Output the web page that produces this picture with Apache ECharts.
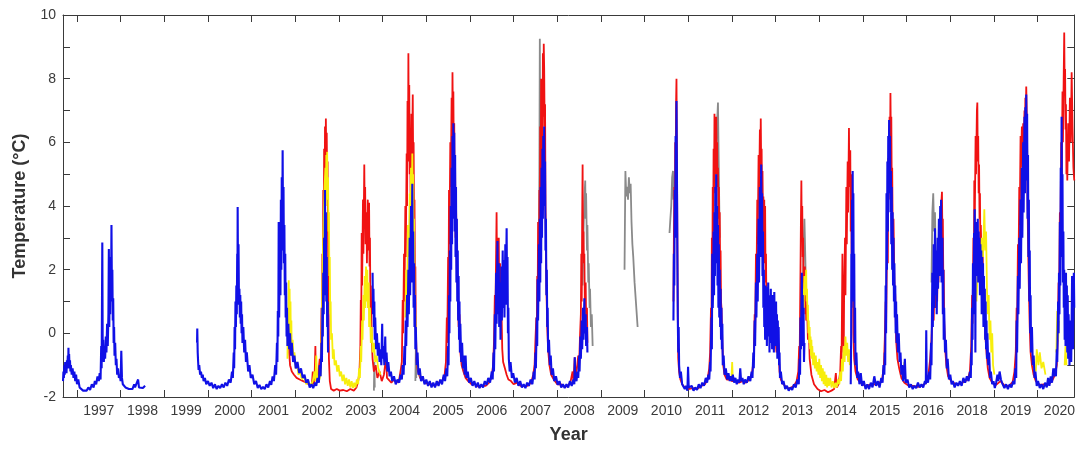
<!DOCTYPE html>
<html>
<head>
<meta charset="utf-8">
<script src="https://cdn.jsdelivr.net/npm/echarts@6/dist/echarts.min.js"></script>
<style>
  html, body { margin: 0; padding: 0; background: #fff; }
  #chart { width: 1078px; height: 449px; }
</style>
</head>
<body>
<div id="chart"></div>
<script>
// tick labels sit between the yearly ticks (note: the source skips 2017)
const yearLabels = ['1997', '1998', '1999', '2000', '2001', '2002', '2003', '2004', '2005', '2006', '2007', '2008',
  '2009', '2010', '2011', '2012', '2013', '2014', '2015', '2016', '2018', '2019', '2020']
const tickYears = yearLabels.map((_, i) => 1997 + i)
const labelYears = yearLabels.map((_, i) => 1997.5 + i)

// [decimal year, temperature °C]; null breaks the line
const grayData = [
  [2003.80, -1.8], [2003.81, -0.9], [2003.82, -1.7], [2003.83, null],
  [2004.75, -1.5], [2004.76, -0.5], [2004.77, -1.4], [2004.78, null],
  [2007.57, 1.5], [2007.59, 5.0], [2007.60, 9.25], [2007.61, 6.0], [2007.62, 7.5], [2007.63, 3.0], [2007.64, null],
  [2008.58, 1.5], [2008.60, 3.2], [2008.62, 4.2], [2008.64, 4.8], [2008.65, 3.6], [2008.66, 4.4], [2008.68, 2.6],
  [2008.69, 3.4], [2008.71, 1.6], [2008.72, 2.2], [2008.74, 0.8], [2008.75, 1.4], [2008.77, 0.2], [2008.79, 0.6],
  [2008.81, -0.4], [2008.82, null],
  [2009.54, 2.0], [2009.55, 3.6], [2009.56, 5.1], [2009.58, 4.3], [2009.60, 4.6], [2009.62, 4.2], [2009.64, 4.9],
  [2009.66, 4.4], [2009.68, 4.7], [2009.70, 3.5], [2009.72, 2.8], [2009.74, 2.4], [2009.77, 1.6], [2009.80, 1.0],
  [2009.84, 0.2], [2009.85, null],
  [2010.57, 3.15], [2010.59, 3.6], [2010.61, 4.0], [2010.63, 4.9], [2010.65, 5.1], [2010.66, 4.2], [2010.67, null],
  [2011.62, 4.0], [2011.64, 5.8], [2011.66, 6.6], [2011.68, 7.25], [2011.70, 5.0], [2011.72, 3.0], [2011.74, null],
  [2013.62, 1.0], [2013.64, 2.6], [2013.66, 3.6], [2013.68, 2.4], [2013.70, 1.0], [2013.71, null],
  [2016.57, 1.6], [2016.59, 3.8], [2016.61, 4.4], [2016.63, 3.2], [2016.65, 3.8], [2016.67, 2.2],
]

const redData = [
  [2001.84, -0.4], [2001.85, 0.1], [2001.86, -0.6], [2001.88, -1.0], [2001.92, -1.2], [2001.97, -1.3], [2002.03, -1.4],
  [2002.10, -1.45], [2002.18, -1.5], [2002.26, -1.55], [2002.33, -1.62], [2002.38, -1.6], [2002.40, -1.2], [2002.41, -1.6],
  [2002.44, -1.5], [2002.46, -0.4], [2002.47, -1.3], [2002.50, -1.5], [2002.53, -1.2], [2002.56, -0.8], [2002.58, -1.1],
  [2002.60, 0.8], [2002.61, -0.2], [2002.62, 2.5], [2002.63, 0.8], [2002.64, 4.5], [2002.65, 2.0], [2002.66, 5.8],
  [2002.67, 3.0], [2002.68, 6.5], [2002.69, 4.2], [2002.70, 6.75], [2002.71, 5.5], [2002.72, 6.3], [2002.73, 4.6],
  [2002.74, 5.4], [2002.75, 3.0], [2002.76, 1.2], [2002.77, -0.8], [2002.79, -1.5], [2002.82, -1.75], [2002.88, -1.8],
  [2002.95, -1.75], [2003.02, -1.8], [2003.10, -1.78], [2003.18, -1.82], [2003.26, -1.75], [2003.34, -1.8], [2003.40, -1.7],
  [2003.44, -1.5], [2003.47, -1.2], [2003.49, -0.4], [2003.50, 1.05], [2003.51, 0.2], [2003.52, 3.15], [2003.53, 1.5],
  [2003.55, 4.2], [2003.56, 2.5], [2003.58, 5.3], [2003.59, 3.6], [2003.60, 4.6], [2003.61, 2.8], [2003.63, 3.8],
  [2003.64, 2.2], [2003.66, 4.2], [2003.67, 2.6], [2003.69, 4.1], [2003.70, 2.1], [2003.71, 3.0], [2003.72, 0.8],
  [2003.73, 1.5], [2003.75, -0.2], [2003.77, -0.8], [2003.80, -1.2], [2003.84, -1.0], [2003.88, -1.4], [2003.93, -1.2],
  [2003.98, -1.5], [2004.03, -1.3], [2004.08, -0.75], [2004.10, -1.4], [2004.14, -1.45], [2004.20, -1.55], [2004.26, -1.45],
  [2004.32, -1.55], [2004.38, -1.45], [2004.42, -1.1], [2004.44, -0.9], [2004.46, 1.05], [2004.47, 0.0], [2004.49, 2.5],
  [2004.50, 1.0], [2004.52, 4.0], [2004.53, 2.4], [2004.55, 5.65], [2004.56, 4.0], [2004.57, 7.3], [2004.58, 5.4],
  [2004.59, 8.8], [2004.60, 6.0], [2004.61, 7.8], [2004.62, 5.0], [2004.63, 6.4], [2004.64, 4.4], [2004.66, 6.9],
  [2004.67, 5.0], [2004.69, 7.5], [2004.70, 5.2], [2004.71, 6.0], [2004.72, 3.6], [2004.73, 4.2], [2004.74, 1.8],
  [2004.75, 2.1], [2004.76, 0.2], [2004.78, -0.9], [2004.81, -1.2], [2004.86, -1.4], [2004.92, -1.45], [2004.98, -1.55],
  [2005.05, -1.6], [2005.12, -1.6], [2005.20, -1.65], [2005.28, -1.55], [2005.36, -1.5], [2005.42, -1.3], [2005.45, -0.9],
  [2005.47, 0.5], [2005.48, -0.3], [2005.50, 2.4], [2005.51, 1.0], [2005.52, 4.5], [2005.53, 2.8], [2005.55, 6.0],
  [2005.56, 4.6], [2005.58, 7.4], [2005.59, 5.8], [2005.60, 8.2], [2005.61, 6.6], [2005.62, 7.6], [2005.63, 5.6],
  [2005.64, 6.6], [2005.65, 4.4], [2005.66, 5.2], [2005.67, 3.0], [2005.68, 4.2], [2005.70, 2.0], [2005.72, 1.6],
  [2005.74, 0.2], [2005.76, 0.6], [2005.78, -0.6], [2005.81, -1.0], [2005.85, -1.2], [2005.90, -1.4], [2005.96, -1.5],
  [2006.04, -1.6], [2006.12, -1.6], [2006.20, -1.68], [2006.28, -1.65], [2006.36, -1.65], [2006.44, -1.55], [2006.50, -1.35],
  [2006.53, -1.0], [2006.55, -0.3], [2006.57, 1.2], [2006.58, 0.4], [2006.60, 2.6], [2006.61, 3.8], [2006.62, 1.8],
  [2006.63, 3.0], [2006.64, 1.2], [2006.66, 3.0], [2006.67, 1.0], [2006.69, 2.2], [2006.70, 0.4], [2006.72, 0.8],
  [2006.74, -0.5], [2006.76, -0.9], [2006.80, -1.1], [2006.84, -1.3], [2006.88, -1.45], [2006.94, -1.5], [2007.00, -1.6],
  [2007.08, -1.55], [2007.16, -1.65], [2007.24, -1.65], [2007.32, -1.65], [2007.40, -1.55], [2007.45, -1.3], [2007.48, -1.0],
  [2007.50, -0.2], [2007.52, 0.5], [2007.53, -0.2], [2007.54, 1.8], [2007.55, 0.8], [2007.56, 3.5], [2007.57, 1.6],
  [2007.58, 2.0], [2007.59, 4.5], [2007.60, 3.0], [2007.61, 6.5], [2007.62, 4.6], [2007.63, 8.0], [2007.64, 6.0],
  [2007.65, 7.0], [2007.66, 5.2], [2007.67, 8.8], [2007.68, 6.8], [2007.69, 9.1], [2007.70, 8.3], [2007.71, 6.5],
  [2007.72, 7.2], [2007.73, 4.0], [2007.74, 3.0], [2007.75, 1.5], [2007.77, 0.2], [2007.79, -0.5], [2007.82, -1.0],
  [2007.86, -1.3], [2007.92, -1.45], [2008.00, -1.6], [2008.08, -1.6], [2008.16, -1.68], [2008.24, -1.65], [2008.30, -1.55],
  [2008.35, -1.2], [2008.37, -1.5], [2008.40, -0.75], [2008.42, -1.3], [2008.45, -1.1], [2008.48, -0.7], [2008.50, -1.0],
  [2008.52, -0.1], [2008.54, 0.6], [2008.55, 2.5], [2008.56, 1.0], [2008.57, 3.6], [2008.58, 5.3], [2008.59, 2.5],
  [2008.60, 3.2], [2008.61, 2.2], [2008.62, 2.5], [2008.63, 1.0], [2008.65, 1.6], [2008.66, 0.4], [2008.68, 0.8],
  [2008.69, -0.3], [2008.70, null],
  [2010.66, 1.0], [2010.67, 3.0], [2010.68, 4.6], [2010.69, 3.2], [2010.70, 6.0], [2010.71, 4.8], [2010.72, 7.2],
  [2010.73, 8.0], [2010.74, 5.6], [2010.75, 3.0], [2010.76, 0.6], [2010.77, -0.8], [2010.79, -1.2], [2010.82, -1.45],
  [2010.86, -1.6], [2010.92, -1.7], [2011.00, -1.75], [2011.10, -1.72], [2011.20, -1.75], [2011.30, -1.65], [2011.38, -1.6],
  [2011.44, -1.45], [2011.48, -1.1], [2011.50, -0.6], [2011.52, 0.8], [2011.53, -0.2], [2011.54, 3.0], [2011.55, 1.6],
  [2011.56, 4.6], [2011.57, 3.2], [2011.58, 5.8], [2011.59, 4.4], [2011.60, 6.9], [2011.61, 5.2], [2011.62, 6.5],
  [2011.63, 5.0], [2011.64, 6.8], [2011.65, 5.6], [2011.66, 6.0], [2011.67, 4.6], [2011.68, 5.2], [2011.69, 3.6],
  [2011.70, 4.6], [2011.71, 3.0], [2011.72, 3.8], [2011.73, 2.0], [2011.74, 2.6], [2011.75, 1.0], [2011.76, 0.8],
  [2011.78, -0.3], [2011.80, -1.0], [2011.83, -1.3], [2011.88, -1.45], [2011.94, -1.45], [2012.00, -1.5], [2012.08, -1.5],
  [2012.16, -1.55], [2012.24, -1.5], [2012.32, -1.55], [2012.40, -1.45], [2012.46, -1.25], [2012.50, -0.8], [2012.52, 0.6],
  [2012.53, -0.1], [2012.55, 2.5], [2012.56, 1.2], [2012.58, 4.2], [2012.59, 2.8], [2012.61, 5.6], [2012.62, 4.2],
  [2012.64, 6.4], [2012.65, 5.0], [2012.66, 6.75], [2012.67, 5.2], [2012.68, 5.8], [2012.69, 4.0], [2012.70, 5.1],
  [2012.71, 3.6], [2012.72, 4.3], [2012.73, 3.0], [2012.74, 4.2], [2012.75, 2.2], [2012.76, 4.0], [2012.77, 1.6],
  [2012.78, 2.5], [2012.79, 0.8], [2012.81, 1.2], [2012.83, 0.2], [2012.86, 0.8], [2012.89, -0.2], [2012.92, 0.4],
  [2012.95, -0.5], [2012.98, 0.2], [2013.02, -0.6], [2013.06, -0.2], [2013.09, -1.2], [2013.12, -1.45], [2013.18, -1.6],
  [2013.26, -1.72], [2013.34, -1.72], [2013.42, -1.65], [2013.48, -1.5], [2013.52, -1.2], [2013.54, -0.4], [2013.55, -0.9],
  [2013.56, 0.6], [2013.57, 2.0], [2013.58, 3.6], [2013.59, 4.8], [2013.60, 3.0], [2013.61, 4.0], [2013.62, 2.4],
  [2013.63, 3.0], [2013.64, 1.6], [2013.65, 2.1], [2013.66, 1.0], [2013.67, 2.1], [2013.68, 0.6], [2013.69, 1.5],
  [2013.70, 0.4], [2013.72, 0.9], [2013.74, -0.2], [2013.76, 0.2], [2013.78, -0.8], [2013.82, -1.3], [2013.88, -1.6],
  [2013.96, -1.75], [2014.04, -1.82], [2014.12, -1.78], [2014.20, -1.85], [2014.28, -1.8], [2014.34, -1.75], [2014.38, -1.25],
  [2014.40, -1.7], [2014.44, -1.6], [2014.48, -1.2], [2014.50, -0.4], [2014.51, -1.0], [2014.53, 2.5], [2014.54, 0.6],
  [2014.56, -0.6], [2014.57, 1.4], [2014.59, 3.0], [2014.60, 1.2], [2014.62, 4.6], [2014.63, 2.8], [2014.65, 5.4],
  [2014.66, 3.8], [2014.68, 6.45], [2014.69, 4.6], [2014.70, 5.2], [2014.71, 5.75], [2014.72, 3.2], [2014.73, 5.0],
  [2014.74, 2.5], [2014.75, 4.0], [2014.76, 1.2], [2014.77, 2.0], [2014.78, 0.0], [2014.80, -0.8], [2014.83, -1.2],
  [2014.88, -1.45], [2014.95, -1.55], [2015.05, -1.65], [2015.15, -1.62], [2015.25, -1.6], [2015.35, -1.6], [2015.44, -1.45],
  [2015.48, -1.0], [2015.50, -0.2], [2015.52, 1.0], [2015.53, 0.2], [2015.55, 2.6], [2015.56, 4.0], [2015.57, 2.2],
  [2015.58, 5.5], [2015.59, 4.2], [2015.61, 6.8], [2015.62, 5.6], [2015.63, 7.55], [2015.64, 6.0], [2015.65, 6.8],
  [2015.66, 4.6], [2015.67, 5.2], [2015.68, 3.4], [2015.70, 3.6], [2015.72, 1.6], [2015.74, 1.2], [2015.76, -0.2],
  [2015.79, -0.8], [2015.83, -1.1], [2015.88, -1.4], [2015.95, -1.55], [2016.05, -1.65], [2016.15, -1.65], [2016.25, -1.68],
  [2016.35, -1.65], [2016.45, -1.55], [2016.50, -1.3], [2016.54, -0.8], [2016.57, -0.2], [2016.60, 1.0], [2016.62, 0.4],
  [2016.64, 1.6], [2016.66, 0.8], [2016.68, 1.9], [2016.70, 1.0], [2016.72, 2.6], [2016.73, 1.6], [2016.75, 3.2],
  [2016.76, 2.2], [2016.78, 3.8], [2016.79, 2.8], [2016.80, 4.2], [2016.81, 4.45], [2016.82, 3.0], [2016.83, 3.6],
  [2016.84, 1.8], [2016.85, 2.0], [2016.86, 0.4], [2016.88, -0.4], [2016.91, -1.0], [2016.95, -1.35], [2017.02, -1.5],
  [2017.12, -1.6], [2017.22, -1.58], [2017.32, -1.52], [2017.40, -1.45], [2017.45, -1.2], [2017.48, -0.4], [2017.50, 1.2],
  [2017.51, 0.3], [2017.53, 3.0], [2017.54, 1.8], [2017.55, 4.8], [2017.56, 3.4], [2017.58, 6.2], [2017.59, 5.0],
  [2017.61, 7.0], [2017.62, 7.25], [2017.63, 5.4], [2017.64, 6.2], [2017.65, 4.4], [2017.66, 5.3], [2017.67, 3.6],
  [2017.68, 4.4], [2017.69, 2.6], [2017.70, 3.4], [2017.72, 2.0], [2017.74, 2.6], [2017.76, 1.0], [2017.78, 1.4],
  [2017.80, 0.0], [2017.83, -0.6], [2017.86, -1.1], [2017.90, -1.4], [2017.96, -1.55], [2018.05, -1.62], [2018.15, -1.5],
  [2018.25, -1.65], [2018.35, -1.65], [2018.43, -1.52], [2018.47, -1.2], [2018.50, -0.6], [2018.52, 0.8], [2018.53, 0.0],
  [2018.55, 2.8], [2018.56, 1.6], [2018.58, 4.6], [2018.59, 3.4], [2018.61, 6.2], [2018.62, 5.2], [2018.64, 6.5],
  [2018.65, 5.4], [2018.67, 6.6], [2018.68, 5.8], [2018.70, 7.0], [2018.71, 6.2], [2018.72, 7.4], [2018.73, 6.8],
  [2018.74, 7.75], [2018.75, 7.0], [2018.76, 6.0], [2018.77, 4.2], [2018.78, 3.0], [2018.80, 1.4], [2018.82, 0.2],
  [2018.84, -0.6], [2018.87, -1.0], [2018.91, -1.3], [2018.96, -1.5], [2019.05, -1.62], [2019.15, -1.6], [2019.25, -1.6],
  [2019.33, -1.5], [2019.40, -1.3], [2019.44, -1.0], [2019.46, -0.2], [2019.48, 1.6], [2019.49, 0.6], [2019.51, 3.8],
  [2019.52, 2.4], [2019.54, 6.0], [2019.55, 4.2], [2019.57, 7.6], [2019.58, 6.0], [2019.60, 8.3], [2019.61, 9.45],
  [2019.62, 7.6], [2019.63, 8.3], [2019.64, 6.4], [2019.65, 7.2], [2019.66, 5.0], [2019.67, 6.2], [2019.68, 4.8],
  [2019.70, 6.6], [2019.72, 5.4], [2019.74, 7.4], [2019.76, 6.0], [2019.78, 8.2], [2019.80, 6.5], [2019.82, 5.2],
  [2019.84, 4.8],
]

const yellowData = [
  [2001.82, -0.8], [2001.83, 0.6], [2001.84, -0.2], [2001.85, 1.67], [2001.86, 0.4], [2001.87, 1.4], [2001.88, 0.0],
  [2001.89, 1.0], [2001.90, -0.4], [2001.91, 0.4], [2001.92, -0.7], [2001.94, -0.2], [2001.96, -0.9], [2001.98, -0.6],
  [2002.01, -1.1], [2002.04, -0.9], [2002.07, -1.3], [2002.11, -1.2], [2002.15, -1.45], [2002.20, -1.35], [2002.25, -1.6],
  [2002.30, -1.5], [2002.35, -1.65], [2002.40, -1.5], [2002.44, -1.2], [2002.46, -1.5], [2002.48, -0.7], [2002.50, -1.4],
  [2002.54, -1.5], [2002.58, -1.3], [2002.61, 0.5], [2002.63, 2.4], [2002.65, 3.6], [2002.67, 4.6], [2002.69, 5.2],
  [2002.70, 4.0], [2002.71, 5.6], [2002.72, 4.6], [2002.73, 5.7], [2002.74, 4.2], [2002.75, 4.9], [2002.76, 3.2],
  [2002.77, 3.8], [2002.78, 1.8], [2002.79, 2.4], [2002.80, 0.6], [2002.81, 1.0], [2002.82, -0.2], [2002.84, 0.0],
  [2002.86, -0.8], [2002.88, -0.5], [2002.90, -1.0], [2002.93, -0.85], [2002.96, -1.2], [2002.99, -1.0], [2003.02, -1.35],
  [2003.05, -1.2], [2003.08, -1.5], [2003.11, -1.3], [2003.14, -1.6], [2003.17, -1.4], [2003.20, -1.65], [2003.23, -1.45],
  [2003.26, -1.7], [2003.29, -1.5], [2003.32, -1.72], [2003.35, -1.55], [2003.38, -1.7], [2003.41, -1.45], [2003.44, -1.6],
  [2003.46, -1.1], [2003.48, -1.4], [2003.50, -0.4], [2003.51, -0.9], [2003.53, 0.4], [2003.54, -0.2], [2003.56, 1.2],
  [2003.57, 0.4], [2003.59, 1.8], [2003.60, 0.8], [2003.62, 2.1], [2003.63, 1.0], [2003.65, 2.0], [2003.66, 0.8],
  [2003.68, 1.6], [2003.69, 0.2], [2003.71, 0.8], [2003.73, -0.3], [2003.75, 0.2], [2003.77, -0.6], [2003.80, -0.3],
  [2003.83, -0.9], [2003.86, -0.7], [2003.90, -1.1], [2003.95, -1.3], [2004.00, null],
  [2004.52, 0.5], [2004.54, 2.0], [2004.56, 1.2], [2004.58, 3.4], [2004.60, 2.4], [2004.62, 4.4], [2004.63, 3.0],
  [2004.65, 5.2], [2004.66, 3.6], [2004.68, 5.65], [2004.69, 4.0], [2004.70, 5.0], [2004.71, 2.6], [2004.72, 3.6],
  [2004.73, 1.2], [2004.75, 0.6], [2004.77, -0.6], [2004.80, -1.0], [2004.84, -1.25], [2004.88, -1.4], [2004.90, null],
  [2011.99, -1.4], [2012.005, -0.9], [2012.02, -1.45], [2012.03, null],
  [2013.60, 0.5], [2013.62, 1.4], [2013.64, 0.8], [2013.66, 1.8], [2013.68, 1.2], [2013.70, 2.0], [2013.71, 1.0],
  [2013.72, 1.4], [2013.73, 0.4], [2013.74, 0.9], [2013.75, 0.0], [2013.76, 0.4], [2013.77, -0.3], [2013.78, 0.2],
  [2013.79, -0.5], [2013.80, -0.1], [2013.81, -0.7], [2013.82, -0.2], [2013.83, -0.8], [2013.84, -0.4], [2013.86, -1.0],
  [2013.88, -0.6], [2013.90, -1.1], [2013.92, -0.7], [2013.94, -1.2], [2013.96, -0.9], [2013.98, -1.3], [2014.00, -0.8],
  [2014.02, -1.4], [2014.04, -1.0], [2014.06, -1.5], [2014.08, -1.1], [2014.10, -1.6], [2014.12, -1.2], [2014.14, -1.65],
  [2014.16, -1.3], [2014.18, -1.7], [2014.20, -1.4], [2014.22, -1.65], [2014.25, -1.4], [2014.28, -1.7], [2014.31, -1.5],
  [2014.34, -1.72], [2014.37, -1.55], [2014.40, -1.7], [2014.43, -1.45], [2014.46, -1.6], [2014.48, -1.2], [2014.50, -1.5],
  [2014.52, -0.8], [2014.54, -1.2], [2014.56, -0.4], [2014.58, -0.9], [2014.60, -0.1], [2014.62, -0.7], [2014.64, -0.3],
  [2014.66, -0.9], [2014.68, -0.5], [2014.70, -1.0], [2014.72, null],
  [2015.93, -1.4], [2015.95, -0.9], [2015.97, -1.4], [2015.98, null],
  [2017.60, 1.0], [2017.64, 2.4], [2017.68, 2.0], [2017.72, 3.0], [2017.75, 2.4], [2017.78, 3.9], [2017.80, 2.6],
  [2017.82, 3.2], [2017.84, 1.4], [2017.86, 0.6], [2017.88, 1.2], [2017.90, -0.2], [2017.92, 0.4], [2017.94, -0.6],
  [2017.96, 0.0], [2017.98, -1.0], [2018.01, -1.3], [2018.03, null],
  [2018.96, -1.2], [2018.98, -0.5], [2019.02, -1.0], [2019.05, -0.6], [2019.09, -1.1], [2019.13, -0.9], [2019.18, -1.3],
  [2019.20, null],
  [2019.43, -0.6], [2019.45, 0.7], [2019.47, -0.2], [2019.49, 0.4], [2019.50, null],
  [2019.62, -1.0], [2019.64, -0.4], [2019.66, -1.0], [2019.67, null],
]

const blueData = [
  [1996.68, -1.5], [1996.69, -1.2], [1996.70, -1.4], [1996.71, -1.0], [1996.72, -1.3], [1996.73, -0.9], [1996.74, -1.2],
  [1996.75, -0.95], [1996.76, -1.25], [1996.77, -0.85], [1996.78, -1.1], [1996.79, -0.7], [1996.80, -1.0], [1996.805, -0.45],
  [1996.81, -0.9], [1996.82, -0.65], [1996.83, -1.1], [1996.84, -0.85], [1996.85, -1.2], [1996.86, -1.0], [1996.88, -1.3],
  [1996.90, -1.1], [1996.92, -1.4], [1996.94, -1.2], [1996.96, -1.5], [1996.98, -1.3], [1997.00, -1.6], [1997.03, -1.45],
  [1997.06, -1.7], [1997.10, -1.65], [1997.14, -1.8], [1997.18, -1.75], [1997.22, -1.8], [1997.26, -1.7], [1997.30, -1.78],
  [1997.34, -1.6], [1997.38, -1.7], [1997.41, -1.5], [1997.44, -1.6], [1997.47, -1.35], [1997.50, -1.5], [1997.52, -1.25],
  [1997.54, -1.45], [1997.555, -0.4], [1997.565, -1.1], [1997.58, 2.85], [1997.59, -0.7], [1997.60, -0.2], [1997.615, -0.9],
  [1997.63, -0.4], [1997.645, -0.8], [1997.66, -0.1], [1997.675, -0.6], [1997.69, 0.3], [1997.705, -0.4], [1997.72, 0.6],
  [1997.73, 2.65], [1997.74, 0.2], [1997.75, 1.8], [1997.76, 0.6], [1997.77, 2.4], [1997.78, 1.0], [1997.79, 3.4],
  [1997.80, 1.3], [1997.81, 2.0], [1997.82, 0.4], [1997.83, 1.1], [1997.84, -0.3], [1997.85, 0.2], [1997.86, -0.7],
  [1997.875, -0.3], [1997.89, -1.0], [1997.905, -0.8], [1997.92, -1.3], [1997.94, -1.1], [1997.96, -1.4], [1997.98, -1.3],
  [1998.00, -1.5], [1998.015, -0.55], [1998.03, -1.4], [1998.05, -1.6], [1998.08, -1.55], [1998.11, -1.7], [1998.15, -1.65],
  [1998.19, -1.75], [1998.23, -1.7], [1998.27, -1.75], [1998.31, -1.6], [1998.33, -1.7], [1998.37, -1.65], [1998.40, -1.45],
  [1998.42, -1.7], [1998.46, -1.65], [1998.51, -1.72], [1998.56, -1.65], [1998.60, null],
  [1999.75, -0.3], [1999.755, 0.15], [1999.765, -0.6], [1999.775, -0.9], [1999.785, -1.15], [1999.80, -1.0], [1999.82, -1.3],
  [1999.84, -1.2], [1999.86, -1.4], [1999.88, -1.3], [1999.90, -1.5], [1999.93, -1.4], [1999.96, -1.6], [2000.00, -1.5],
  [2000.04, -1.65], [2000.08, -1.55], [2000.12, -1.72], [2000.16, -1.6], [2000.20, -1.75], [2000.24, -1.65], [2000.28, -1.72],
  [2000.32, -1.6], [2000.36, -1.7], [2000.40, -1.55], [2000.44, -1.65], [2000.48, -1.45], [2000.52, -1.55], [2000.55, -1.2],
  [2000.57, -1.4], [2000.59, -0.6], [2000.60, -1.1], [2000.61, 0.2], [2000.62, -0.5], [2000.63, 1.0], [2000.64, 0.2],
  [2000.65, 1.5], [2000.66, 0.6], [2000.67, 2.5], [2000.675, 1.0], [2000.68, 3.97], [2000.69, 1.2], [2000.70, 2.8],
  [2000.71, 0.9], [2000.72, 1.4], [2000.73, 0.5], [2000.74, 1.2], [2000.75, 0.3], [2000.76, 1.0], [2000.77, 0.0],
  [2000.78, 0.6], [2000.79, -0.3], [2000.81, 0.2], [2000.83, -0.6], [2000.85, -0.2], [2000.87, -0.9], [2000.89, -0.6],
  [2000.92, -1.2], [2000.95, -1.0], [2000.98, -1.4], [2001.02, -1.3], [2001.06, -1.6], [2001.10, -1.5], [2001.14, -1.72],
  [2001.18, -1.62], [2001.22, -1.75], [2001.26, -1.68], [2001.30, -1.75], [2001.34, -1.6], [2001.38, -1.7], [2001.42, -1.5],
  [2001.45, -1.62], [2001.48, -1.35], [2001.51, -1.5], [2001.54, -1.0], [2001.56, -1.3], [2001.58, -0.3], [2001.59, -0.9],
  [2001.60, 0.7], [2001.61, -0.1], [2001.62, 3.5], [2001.63, 0.5], [2001.64, 1.8], [2001.65, 3.0], [2001.66, 1.2],
  [2001.67, 4.2], [2001.68, 2.0], [2001.69, 4.9], [2001.70, 2.6], [2001.71, 5.75], [2001.72, 3.0], [2001.73, 4.6],
  [2001.74, 2.2], [2001.75, 3.4], [2001.76, 1.2], [2001.77, 2.5], [2001.78, 0.5], [2001.79, 1.6], [2001.80, -0.1],
  [2001.81, 0.8], [2001.82, -0.4], [2001.84, 0.3], [2001.86, -0.5], [2001.88, 0.0], [2001.90, -0.7], [2001.92, -0.3],
  [2001.95, -0.9], [2001.98, -0.7], [2002.01, -1.1], [2002.05, -0.9], [2002.09, -1.25], [2002.13, -1.1], [2002.17, -1.4],
  [2002.21, -1.3], [2002.25, -1.55], [2002.29, -1.45], [2002.33, -1.7], [2002.37, -1.6], [2002.41, -1.72], [2002.45, -1.55],
  [2002.48, -1.65], [2002.51, -1.4], [2002.54, -1.55], [2002.56, -1.0], [2002.58, -1.35], [2002.60, -0.3], [2002.61, -0.9],
  [2002.62, 0.8], [2002.63, -0.1], [2002.64, 1.9], [2002.65, 0.6], [2002.66, 3.0], [2002.67, 1.2], [2002.68, 4.5],
  [2002.69, 1.8], [2002.70, 3.8], [2002.71, 1.0], [2002.72, 2.4], [2002.73, 0.2], [2002.74, 1.0], [2002.75, -0.6],
  [2002.76, null],
  [2003.77, 1.9], [2003.78, 0.6], [2003.79, 1.4], [2003.80, 0.2], [2003.81, 1.0], [2003.82, -0.2], [2003.83, 0.5],
  [2003.85, -0.5], [2003.87, 0.0], [2003.89, -0.7], [2003.91, -0.3], [2003.93, -0.9], [2003.95, -0.5], [2003.97, -1.0],
  [2003.99, 0.3], [2004.00, -0.8], [2004.02, -0.4], [2004.04, -1.0], [2004.06, -0.1], [2004.07, -0.9], [2004.09, -0.6],
  [2004.11, -1.2], [2004.13, -0.9], [2004.16, -1.35], [2004.19, -1.2], [2004.22, -1.5], [2004.26, -1.35], [2004.30, -1.6],
  [2004.34, -1.45], [2004.38, -1.55], [2004.41, -1.3], [2004.44, -1.45], [2004.46, -1.0], [2004.48, -1.3], [2004.50, -0.4],
  [2004.51, -1.0], [2004.53, 0.4], [2004.54, -0.4], [2004.56, 1.2], [2004.57, 0.2], [2004.59, 2.0], [2004.60, 0.6],
  [2004.62, 3.0], [2004.63, 1.2], [2004.65, 4.0], [2004.66, 1.6], [2004.68, 4.7], [2004.69, 2.0], [2004.70, 3.2],
  [2004.71, 0.8], [2004.72, 2.2], [2004.73, 0.2], [2004.74, 1.2], [2004.75, -0.5], [2004.76, 0.2], [2004.78, -1.0],
  [2004.80, -0.6], [2004.82, -1.3], [2004.85, -1.1], [2004.88, -1.5], [2004.92, -1.35], [2004.96, -1.6], [2005.00, -1.45],
  [2005.04, -1.65], [2005.08, -1.5], [2005.12, -1.7], [2005.16, -1.55], [2005.20, -1.7], [2005.24, -1.5], [2005.28, -1.65],
  [2005.32, -1.45], [2005.36, -1.6], [2005.40, -1.3], [2005.43, -1.5], [2005.46, -1.1], [2005.48, -1.35], [2005.50, -0.4],
  [2005.51, -1.0], [2005.52, 1.2], [2005.53, 0.0], [2005.54, 2.6], [2005.55, 1.0], [2005.56, 4.0], [2005.57, 2.0],
  [2005.58, 5.2], [2005.59, 2.8], [2005.60, 6.2], [2005.61, 3.6], [2005.62, 6.6], [2005.63, 4.0], [2005.64, 6.3],
  [2005.65, 3.2], [2005.66, 5.6], [2005.67, 2.4], [2005.68, 4.6], [2005.69, 1.6], [2005.70, 3.6], [2005.71, 1.0],
  [2005.72, 2.6], [2005.73, 0.4], [2005.74, 1.8], [2005.75, -0.2], [2005.76, 1.0], [2005.77, -0.6], [2005.78, 0.3],
  [2005.80, -0.9], [2005.82, -0.3], [2005.84, -1.1], [2005.86, -0.7], [2005.88, -1.3], [2005.90, -0.7], [2005.92, -1.4],
  [2005.95, -1.2], [2005.98, -1.55], [2006.02, -1.4], [2006.06, -1.65], [2006.10, -1.5], [2006.14, -1.7], [2006.18, -1.55],
  [2006.22, -1.72], [2006.26, -1.6], [2006.30, -1.7], [2006.34, -1.5], [2006.38, -1.62], [2006.42, -1.4], [2006.46, -1.55],
  [2006.50, -1.2], [2006.52, -1.45], [2006.54, -0.6], [2006.55, -1.2], [2006.57, 0.6], [2006.58, -0.5], [2006.60, 1.9],
  [2006.61, 0.3], [2006.63, 2.9], [2006.64, 0.6], [2006.66, 2.2], [2006.67, 0.2], [2006.69, 1.6], [2006.70, -0.2],
  [2006.72, 2.1], [2006.73, 0.4], [2006.75, 2.6], [2006.76, 0.8], [2006.78, 2.3], [2006.79, 0.5], [2006.81, 2.8],
  [2006.82, 0.9], [2006.84, 3.3], [2006.85, 1.0], [2006.86, 2.4], [2006.87, 0.0], [2006.88, 0.8], [2006.89, -0.8],
  [2006.91, -1.2], [2006.93, -0.9], [2006.96, -1.4], [2006.99, -1.25], [2007.03, -1.55], [2007.07, -1.4], [2007.11, -1.65],
  [2007.15, -1.5], [2007.19, -1.7], [2007.23, -1.6], [2007.27, -1.72], [2007.31, -1.55], [2007.35, -1.65], [2007.39, -1.45],
  [2007.43, -1.6], [2007.46, -1.2], [2007.48, -1.45], [2007.50, -0.6], [2007.51, -1.1], [2007.53, 0.5], [2007.54, -0.4],
  [2007.55, 1.7], [2007.56, 0.4], [2007.58, 2.8], [2007.59, 1.0], [2007.60, 3.6], [2007.61, 1.6], [2007.62, 4.6],
  [2007.63, 2.2], [2007.64, 5.2], [2007.65, 3.0], [2007.66, 5.8], [2007.67, 3.6], [2007.68, 6.2], [2007.69, 4.2],
  [2007.70, 6.5], [2007.71, 4.0], [2007.72, 5.4], [2007.73, 2.6], [2007.74, 3.6], [2007.75, 1.2], [2007.76, 2.0],
  [2007.77, 0.2], [2007.78, 0.8], [2007.79, -0.6], [2007.81, -0.2], [2007.83, -1.0], [2007.85, -0.7], [2007.87, -1.3],
  [2007.90, -1.1], [2007.93, -1.5], [2007.97, -1.35], [2008.01, -1.62], [2008.05, -1.5], [2008.09, -1.7], [2008.13, -1.6],
  [2008.17, -1.72], [2008.21, -1.6], [2008.25, -1.7], [2008.29, -1.5], [2008.33, -1.65], [2008.37, -1.45], [2008.39, -1.6],
  [2008.40, -0.75], [2008.41, -1.4], [2008.44, -1.5], [2008.46, -1.2], [2008.48, -1.4], [2008.50, -0.7], [2008.51, -1.2],
  [2008.53, -0.1], [2008.54, -0.8], [2008.56, 0.4], [2008.57, -0.5], [2008.59, 0.8], [2008.60, -0.2], [2008.62, 1.1],
  [2008.63, 0.0], [2008.65, 0.6], [2008.66, -0.4], [2008.68, 0.2], [2008.69, -0.6], [2008.70, null],
  [2010.66, 0.4], [2010.67, 2.5], [2010.68, 1.5], [2010.69, 4.5], [2010.70, 3.0], [2010.71, 6.2], [2010.72, 4.8],
  [2010.73, 7.3], [2010.74, 5.0], [2010.75, 2.5], [2010.76, 0.5], [2010.77, -0.6], [2010.78, 0.2], [2010.79, -1.0],
  [2010.81, -1.4], [2010.83, -1.2], [2010.86, -1.6], [2010.89, -1.55], [2010.92, -1.75], [2010.95, -1.65], [2010.98, -1.8],
  [2010.995, -1.05], [2011.01, -1.7], [2011.04, -1.75], [2011.08, -1.65], [2011.12, -1.8], [2011.16, -1.7], [2011.20, -1.78],
  [2011.24, -1.6], [2011.28, -1.72], [2011.32, -1.55], [2011.36, -1.65], [2011.40, -1.4], [2011.43, -1.55], [2011.46, -1.3],
  [2011.48, -1.45], [2011.50, -0.9], [2011.51, -1.2], [2011.53, 0.5], [2011.54, -0.5], [2011.55, 2.5], [2011.56, 0.8],
  [2011.57, 1.5], [2011.58, 3.2], [2011.59, 1.2], [2011.60, 3.8], [2011.61, 1.8], [2011.62, 4.6], [2011.63, 2.2],
  [2011.64, 5.0], [2011.65, 2.6], [2011.66, 4.0], [2011.67, 1.5], [2011.68, 3.4], [2011.69, 0.8], [2011.70, 2.8],
  [2011.71, 0.5], [2011.72, 2.0], [2011.73, 0.2], [2011.74, 1.4], [2011.75, -0.2], [2011.76, 0.8], [2011.77, -0.5],
  [2011.78, 0.3], [2011.79, -1.0], [2011.81, -0.7], [2011.83, -1.3], [2011.86, -1.1], [2011.89, -1.45], [2011.92, -1.25],
  [2011.95, -1.5], [2011.98, -1.35], [2012.00, -1.5], [2012.02, -1.3], [2012.05, -1.55], [2012.08, -1.4], [2012.11, -1.6],
  [2012.14, -1.45], [2012.17, -1.55], [2012.19, -1.1], [2012.21, -1.5], [2012.24, -1.4], [2012.27, -1.6], [2012.30, -1.45],
  [2012.34, -1.55], [2012.38, -1.35], [2012.42, -1.5], [2012.45, -1.2], [2012.47, -1.4], [2012.49, -0.6], [2012.50, -1.1],
  [2012.52, 0.4], [2012.53, -0.4], [2012.55, 1.6], [2012.56, 0.5], [2012.58, 2.5], [2012.59, 1.0], [2012.61, 3.6],
  [2012.62, 1.6], [2012.64, 4.6], [2012.65, 2.4], [2012.67, 5.3], [2012.68, 3.0], [2012.69, 4.4], [2012.70, 1.8],
  [2012.71, 3.2], [2012.72, 0.8], [2012.73, 2.0], [2012.74, 0.2], [2012.75, 1.4], [2012.76, -0.2], [2012.77, 1.5],
  [2012.78, 0.6], [2012.79, 1.45], [2012.80, -0.4], [2012.81, 1.1], [2012.82, 0.2], [2012.83, 1.6], [2012.84, -0.1],
  [2012.85, 1.2], [2012.86, -0.6], [2012.87, 1.0], [2012.88, 0.0], [2012.89, 1.4], [2012.90, -0.3], [2012.91, 0.9],
  [2012.92, -0.5], [2012.93, 1.2], [2012.94, 0.1], [2012.95, 0.8], [2012.96, -0.6], [2012.97, 1.3], [2012.98, 0.0],
  [2012.99, 0.9], [2013.00, -0.4], [2013.01, 1.0], [2013.02, -0.2], [2013.03, 0.6], [2013.04, -0.8], [2013.05, 0.4],
  [2013.06, -0.5], [2013.07, 0.2], [2013.08, -1.0], [2013.09, -0.6], [2013.10, -1.4], [2013.12, -1.2], [2013.15, -1.6],
  [2013.18, -1.5], [2013.22, -1.75], [2013.26, -1.65], [2013.30, -1.8], [2013.34, -1.7], [2013.38, -1.78], [2013.42, -1.6],
  [2013.46, -1.7], [2013.50, -1.45], [2013.53, -1.6], [2013.55, -0.8], [2013.56, -1.3], [2013.57, 0.5], [2013.58, -0.5],
  [2013.60, 1.9], [2013.61, 0.2], [2013.62, 1.2], [2013.63, -0.4], [2013.64, 0.8], [2013.65, -0.9], [2013.66, -0.3],
  [2013.67, null],
  [2014.72, -1.6], [2014.73, -0.2], [2014.735, 2.5], [2014.74, 0.8], [2014.75, 4.2], [2014.76, 2.0], [2014.765, 5.1],
  [2014.77, 2.8], [2014.78, 4.4], [2014.79, 1.0], [2014.80, 2.5], [2014.81, -0.3], [2014.82, 0.8], [2014.83, -1.0],
  [2014.85, -0.6], [2014.87, -1.4], [2014.89, -1.2], [2014.92, -1.6], [2014.95, -1.25], [2014.98, -1.65], [2015.02, -1.5],
  [2015.06, -1.75], [2015.10, -1.6], [2015.14, -1.75], [2015.18, -1.55], [2015.22, -1.7], [2015.26, -1.35], [2015.30, -1.65],
  [2015.34, -1.5], [2015.38, -1.7], [2015.42, -1.4], [2015.45, -1.55], [2015.47, -1.0], [2015.49, -1.3], [2015.50, -0.6],
  [2015.51, -1.0], [2015.52, 1.5], [2015.53, 0.0], [2015.54, 4.4], [2015.55, 2.0], [2015.56, 5.4], [2015.57, 3.2],
  [2015.58, 6.2], [2015.59, 4.4], [2015.60, 6.7], [2015.61, 4.6], [2015.62, 6.2], [2015.63, 3.8], [2015.64, 5.1],
  [2015.65, 2.8], [2015.66, 4.6], [2015.67, 2.0], [2015.68, 3.8], [2015.69, 1.5], [2015.70, 3.0], [2015.71, 1.0],
  [2015.72, 2.2], [2015.73, 0.5], [2015.74, 1.5], [2015.75, 0.0], [2015.76, 1.0], [2015.77, -0.3], [2015.78, 0.6],
  [2015.80, -0.6], [2015.82, 0.0], [2015.84, -0.9], [2015.86, -0.6], [2015.88, -1.3], [2015.90, -1.0], [2015.92, -1.5],
  [2015.94, -1.3], [2015.96, -0.8], [2015.98, -1.55], [2016.02, -1.45], [2016.06, -1.7], [2016.10, -1.6], [2016.14, -1.75],
  [2016.18, -1.65], [2016.22, -1.72], [2016.26, -1.55], [2016.30, -1.7], [2016.34, -1.6], [2016.38, -1.7], [2016.42, -1.5],
  [2016.44, -1.6], [2016.45, 0.1], [2016.46, -1.4], [2016.49, -1.55], [2016.52, -1.2], [2016.54, -1.45], [2016.56, -0.3],
  [2016.57, -1.0], [2016.59, 1.9], [2016.60, 0.2], [2016.62, 2.8], [2016.63, 0.8], [2016.65, 3.3], [2016.66, 1.2],
  [2016.68, 2.6], [2016.69, 0.6], [2016.71, 3.0], [2016.72, 1.4], [2016.74, 3.6], [2016.75, 1.8], [2016.77, 4.0],
  [2016.78, 2.0], [2016.79, 4.2], [2016.80, 1.6], [2016.82, 3.0], [2016.83, 0.6], [2016.84, 2.0], [2016.85, -0.2],
  [2016.86, 0.8], [2016.88, -0.6], [2016.90, -0.2], [2016.92, -1.1], [2016.94, -0.8], [2016.97, -1.45], [2017.00, -1.3],
  [2017.03, -1.6], [2017.06, -1.5], [2017.10, -1.7], [2017.14, -1.55], [2017.18, -1.65], [2017.22, -1.5], [2017.26, -1.65],
  [2017.30, -1.4], [2017.34, -1.55], [2017.38, -1.35], [2017.42, -1.5], [2017.45, -1.2], [2017.47, -1.4], [2017.48, -0.6],
  [2017.49, -1.0], [2017.50, 0.8], [2017.51, -0.2], [2017.52, 2.2], [2017.53, 0.6], [2017.545, 3.15], [2017.55, 1.4],
  [2017.56, 3.9], [2017.57, 2.0], [2017.575, -0.6], [2017.58, 2.4], [2017.59, 3.5], [2017.60, 1.8], [2017.61, 3.3],
  [2017.62, 2.0], [2017.63, 3.6], [2017.64, 1.6], [2017.65, 3.2], [2017.66, 2.2], [2017.67, 3.0], [2017.68, 1.2],
  [2017.69, 2.8], [2017.70, 1.4], [2017.71, 2.6], [2017.72, 0.6], [2017.73, 2.4], [2017.74, 1.0], [2017.75, 2.2],
  [2017.76, 0.2], [2017.77, 1.8], [2017.78, 0.4], [2017.79, 1.4], [2017.80, -0.2], [2017.81, 1.0], [2017.82, -0.5],
  [2017.83, 0.4], [2017.84, -0.8], [2017.85, 0.0], [2017.87, -1.0], [2017.89, -0.6], [2017.91, -1.4], [2017.93, -1.2],
  [2017.96, -1.6], [2017.99, -1.5], [2018.02, -1.72], [2018.05, -1.55], [2018.08, -1.3], [2018.10, -1.5], [2018.13, -1.2],
  [2018.16, -1.45], [2018.20, -1.6], [2018.24, -1.72], [2018.28, -1.6], [2018.32, -1.75], [2018.36, -1.6], [2018.40, -1.7],
  [2018.44, -1.5], [2018.47, -1.6], [2018.49, -1.1], [2018.51, -1.4], [2018.52, 0.4], [2018.53, -0.6], [2018.55, 1.8],
  [2018.56, 0.6], [2018.58, 3.0], [2018.59, 1.4], [2018.61, 4.2], [2018.62, 2.2], [2018.64, 5.2], [2018.65, 3.0],
  [2018.67, 6.0], [2018.68, 3.8], [2018.70, 6.8], [2018.71, 4.4], [2018.72, 7.1], [2018.73, 4.8], [2018.74, 7.5],
  [2018.75, 5.0], [2018.76, 6.9], [2018.77, 3.6], [2018.78, 5.6], [2018.79, 2.4], [2018.80, 4.2], [2018.81, 1.0],
  [2018.82, 2.6], [2018.83, 0.0], [2018.84, 1.2], [2018.85, -0.6], [2018.87, 0.2], [2018.89, -1.0], [2018.91, -0.7],
  [2018.93, -1.4], [2018.95, -1.2], [2018.98, -1.65], [2019.01, -1.5], [2019.05, -1.72], [2019.09, -1.6], [2019.13, -1.75],
  [2019.17, -1.55], [2019.21, -1.7], [2019.24, -1.4], [2019.27, -1.65], [2019.30, -1.35], [2019.33, -1.55], [2019.36, -1.1],
  [2019.38, -1.35], [2019.40, -1.1], [2019.42, -1.35], [2019.44, -0.5], [2019.45, -0.9], [2019.47, 1.0], [2019.48, 0.0],
  [2019.49, 1.9], [2019.50, 0.6], [2019.51, 3.5], [2019.52, 1.5], [2019.53, 5.2], [2019.54, 2.4], [2019.55, 6.8],
  [2019.56, 3.0], [2019.57, 5.0], [2019.58, 1.6], [2019.59, 3.2], [2019.60, 0.8], [2019.61, 2.0], [2019.62, -0.2],
  [2019.63, 1.6], [2019.64, -0.4], [2019.65, 1.9], [2019.66, 0.0], [2019.67, 1.5], [2019.68, -0.6], [2019.69, 1.2],
  [2019.70, -0.8], [2019.71, 0.6], [2019.73, -1.0], [2019.75, 0.4], [2019.77, -0.9], [2019.79, 1.8], [2019.81, -0.5],
  [2019.83, 1.9], [2019.84, 0.8],
]

const axisColor = '#3a3a3a'
const textColor = '#3a3a3a'
const fontFamily = '"Liberation Sans", Arial, sans-serif'

const xBase = {
  type: 'value',
  min: 1996.68,
  max: 2019.84,
  axisLine: { show: true, onZero: false, lineStyle: { color: axisColor, width: 1 } },
  axisTick: { show: true, inside: true, length: 7, customValues: tickYears, lineStyle: { color: axisColor } },
  splitLine: { show: false },
}

const yBase = {
  type: 'value',
  min: -2,
  max: 10,
  interval: 1,
  axisLine: { show: true, onZero: false, lineStyle: { color: axisColor, width: 1 } },
  axisTick: { show: true, inside: true, length: 7, lineStyle: { color: axisColor } },
  splitLine: { show: false },
}

function lineSeries(name, data, color, width) {
  return {
    name,
    type: 'line',
    data,
    symbol: 'none',
    showSymbol: false,
    connectNulls: false,
    lineStyle: { color, width },
    itemStyle: { color },
    emphasis: { disabled: true },
  }
}

const chart = echarts.init(document.getElementById('chart'))
chart.setOption({
  animation: false,
  textStyle: { fontFamily },
  grid: { left: 63, right: 3, top: 15, bottom: 52, containLabel: false },
  xAxis: [
    {
      ...xBase,
      position: 'bottom',
      axisLabel: {
        customValues: labelYears,
        formatter: v => yearLabels[Math.floor(v) - 1997] || '',
        color: textColor,
        fontSize: 14,
        fontFamily,
        margin: 7,
      },
      name: 'Year',
      nameLocation: 'middle',
      nameGap: 29,
      nameTextStyle: { color: '#333', fontSize: 18, fontWeight: 'bold', fontFamily },
    },
    { ...xBase, position: 'top', axisLabel: { show: false } },
  ],
  yAxis: [
    {
      ...yBase,
      position: 'left',
      axisLabel: {
        formatter: v => (v % 2 === 0 ? String(v) : ''),
        color: textColor,
        fontSize: 14,
        fontFamily,
        margin: 7,
      },
      name: 'Temperature (°C)',
      nameLocation: 'middle',
      nameGap: 31,
      nameTextStyle: { color: '#333', fontSize: 18, fontWeight: 'bold', fontFamily },
    },
    { ...yBase, position: 'right', axisLabel: { show: false } },
  ],
  series: [
    lineSeries('gray', grayData, '#8a8a8a', 1.8),
    lineSeries('red', redData, '#f01212', 1.8),
    lineSeries('yellow', yellowData, '#f7ee0c', 1.8),
    lineSeries('blue', blueData, '#1010e6', 2.1),
  ],
})
</script>
</body>
</html>
